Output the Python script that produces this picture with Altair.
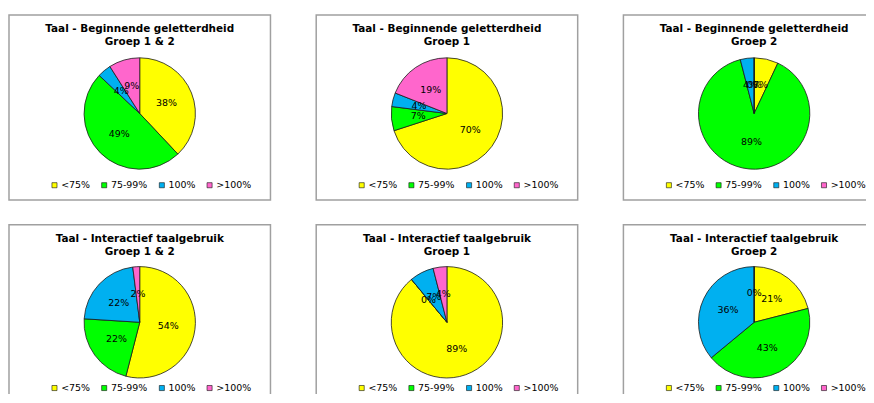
import altair as alt
import pandas as pd

categories = ["<75%", "75-99%", "100%", ">100%"]
colors = ["#FFFF00", "#00FF00", "#00B0F0", "#FF66CC"]

titles = [
    ["Taal - Beginnende geletterdheid", "Groep 1 & 2"],
    ["Taal - Beginnende geletterdheid", "Groep 1"],
    ["Taal - Beginnende geletterdheid", "Groep 2"],
    ["Taal - Interactief taalgebruik", "Groep 1 & 2"],
    ["Taal - Interactief taalgebruik", "Groep 1"],
    ["Taal - Interactief taalgebruik", "Groep 2"],
]

begin_g12 = [38, 49, 4, 9]
begin_g1 = [70, 7, 4, 19]
begin_g2 = [7, 89, 4, 0]
inter_g12 = [54, 22, 22, 2]
inter_g1 = [89, 0, 7, 4]
inter_g2 = [21, 43, 36, 0]

FONT = "DejaVu Sans"


def panel(values, title, width, height, yoff, legend_y):
    df = pd.DataFrame({"cat": categories, "value": values, "idx": list(range(len(categories)))})
    base = alt.Chart(df).encode(
        theta=alt.Theta("value:Q", stack=True),
        order=alt.Order("idx:Q"),
    )
    arcs = base.mark_arc(outerRadius=56, stroke="#1a1a1a", strokeWidth=0.8, yOffset=yoff).encode(
        color=alt.Color(
            "cat:N",
            scale=alt.Scale(domain=categories, range=colors),
            legend=alt.Legend(
                orient="none", legendX=41, legendY=legend_y, direction="horizontal",
                title=None, symbolType="square", symbolSize=26, symbolStrokeColor="#111",
                symbolStrokeWidth=0.6, labelFont=FONT, labelFontSize=9.5, labelColor="black",
                labelOffset=2, columnPadding=9, padding=0, symbolOpacity=1,
            ),
        )
    )
    labels = base.transform_calculate(label="datum.value + '%'").mark_text(
        radius=29, fontSize=9.5, font=FONT, color="black", yOffset=yoff
    ).encode(text="label:N")
    return alt.layer(arcs, labels).properties(
        width=width,
        height=height,
        view=alt.ViewBackground(stroke="#a0a0a0", strokeWidth=1.5, fill="white"),
        title=alt.Title(
            text=title, fontSize=10.5, font=FONT, fontWeight="bold", anchor="middle",
            offset=-33, lineHeight=13.5, color="black",
        ),
    )


w = 263
row1 = alt.hconcat(
    panel(begin_g12, titles[0], w, 186, 6, 166),
    panel(begin_g1, titles[1], w, 186, 6, 166),
    panel(begin_g2, titles[2], w, 186, 6, 166),
    spacing=44,
).resolve_scale(color="independent", theta="independent").resolve_legend(color="independent")
row2 = alt.hconcat(
    panel(inter_g12, titles[3], w, 186, 5, 159),
    panel(inter_g1, titles[4], w, 186, 5, 159),
    panel(inter_g2, titles[5], w, 186, 5, 159),
    spacing=44,
).resolve_scale(color="independent", theta="independent").resolve_legend(color="independent")

chart = alt.vconcat(row1, row2, spacing=23).resolve_scale(
    color="independent", theta="independent"
).resolve_legend(color="independent").properties(
    padding={"left": 0, "top": 5, "right": -20, "bottom": -18}
)

chart.save("out.html", embed_options={"renderer": "svg", "actions": False})
